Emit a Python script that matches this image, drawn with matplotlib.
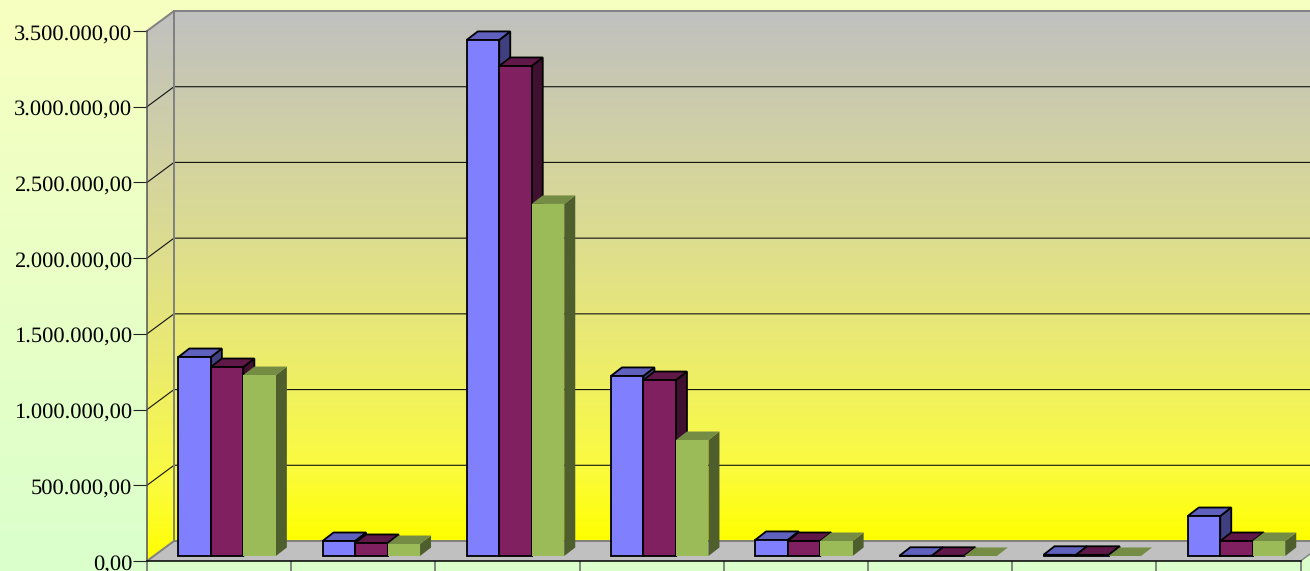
import numpy as np
import matplotlib
matplotlib.use('Agg')
import matplotlib.pyplot as plt
from matplotlib.colors import LinearSegmentedColormap
from matplotlib.patches import Polygon
from matplotlib.transforms import ScaledTranslation

series_a = [1314000, 99000, 3408000, 1189000, 106000, 1500, 8000, 264000]
series_b = [1248000, 86000, 3236000, 1162000, 99000, 1500, 8000, 99000]
series_c = [1195000, 79000, 2325000, 766000, 99000, 0, 0, 99000]
tick_vals = [0, 500000, 1000000, 1500000, 2000000, 2500000, 3000000, 3500000]
tick_labels = ['0,00', '500.000,00', '1.000.000,00', '1.500.000,00', '2.000.000,00',
               '2.500.000,00', '3.000.000,00', '3.500.000,00']
n_cats = 8

W, H = 1310, 571
cat_px = 144.2
val_per_px = 3500000 / 530
x0_px, y0_px = 147, 561

# depth of the fake 3d box, in data units
DX = 27 / cat_px
DY = 20 * val_per_px
YTOP = 3500000

plt.rcParams['font.family'] = ['Liberation Serif', 'DejaVu Serif']
plt.rcParams['text.hinting'] = 'no_hinting'
fig = plt.figure(figsize=(W / 100, H / 100), dpi=100)
ax = fig.add_axes([0, 0, 1, 1])
ax.set_xlim(-x0_px / cat_px, (W - x0_px) / cat_px)
ax.set_ylim(-(H - y0_px) * val_per_px, y0_px * val_per_px)
ax.patch.set_visible(False)
xmin, xmax = ax.get_xlim()
ymin, ymax = ax.get_ylim()

# page background
page_cm = LinearSegmentedColormap.from_list('page', ['#F8FFC0', '#DAFFCC'])
ax.imshow(np.linspace(0, 1, 256).reshape(-1, 1), cmap=page_cm, aspect='auto',
          extent=(xmin, xmax, ymin, ymax), origin='upper', zorder=0)

# walls, the gradient is not linear in the reference
wall_cm = LinearSegmentedColormap.from_list('wall', [(0, '#C0C0C0'), (0.43, '#DDDD90'), (0.64, '#EBEB70'),
                                                     (0.86, '#FBFB40'), (1, '#FFFF00')])
right_x = n_cats + DX
back = ax.imshow(np.linspace(0, 1, 256).reshape(-1, 1), cmap=wall_cm, aspect='auto',
                 extent=(DX, right_x, DY, YTOP + DY), origin='upper', zorder=1)
side = ax.imshow(np.linspace(0, 1, 256).reshape(-1, 1), cmap=wall_cm, aspect='auto',
                 extent=(0, DX, 0, YTOP + DY), origin='upper', zorder=1)
side_clip = Polygon([(0, 0), (DX, DY), (DX, YTOP + DY), (0, YTOP)], transform=ax.transData,
                    fc='none', ec='none')
ax.add_patch(side_clip)
side.set_clip_path(side_clip)
ax.set_xlim(xmin, xmax)
ax.set_ylim(ymin, ymax)

# floor
ax.add_patch(Polygon([(0, 0), (DX, DY), (right_x, DY), (n_cats, 0)], fc='#C0C0C0', ec='none', zorder=2))
ax.plot([n_cats, right_x], [0, DY], color='#808080', lw=1, zorder=2.5)

# grid
for v in tick_vals[1:-1]:
    ax.plot([0, DX, right_x], [v, v + DY, v + DY], color='#111111', lw=0.8, zorder=3)
ax.plot([0, DX, right_x], [YTOP, YTOP + DY, YTOP + DY], color='#808080', lw=1.4, zorder=3)
ax.plot([DX, DX], [DY, YTOP + DY], color='#808080', lw=1.4, zorder=3)
ax.plot([0, DX, right_x], [0, DY, DY], color='#808080', lw=1.4, zorder=3)

# bars
bar_w = 32.5 / cat_px
start = 24.6 / cat_px
lift_x = 6.75 / cat_px
lift_y = 5 * val_per_px
bar_dx = 11 / cat_px
bar_dy = 8.5 * val_per_px
styles = [
    (series_a, '#8080FF', '#6060BF', '#404080', 'black'),
    (series_b, '#802060', '#601848', '#401030', 'black'),
    (series_c, '#9BBB59', '#748C43', '#4E5E2D', 'none'),
]
for i in range(n_cats):
    for j, (vals, front, top, dark, edge) in enumerate(styles):
        v = vals[i]
        left = i + lift_x + start + j * bar_w
        z = 4 + j + i * 3
        ax.add_patch(Polygon([(left + bar_w, lift_y), (left + bar_w + bar_dx, lift_y + bar_dy),
                              (left + bar_w + bar_dx, lift_y + bar_dy + v), (left + bar_w, lift_y + v)],
                             fc=dark, ec=edge, lw=1.3, zorder=z, joinstyle='miter'))
        ax.add_patch(Polygon([(left, lift_y + v), (left + bar_dx, lift_y + bar_dy + v),
                              (left + bar_w + bar_dx, lift_y + bar_dy + v), (left + bar_w, lift_y + v)],
                             fc=top, ec=edge, lw=1.3, zorder=z, joinstyle='miter'))
        ax.bar(left, v, width=bar_w, bottom=lift_y, align='edge', color=front,
               edgecolor=edge, linewidth=1.3, zorder=z + 0.5)

# axes lines and ticks
for name in ['top', 'right']:
    ax.spines[name].set_visible(False)
ax.spines['left'].set_position(('data', 0))
ax.spines['bottom'].set_position(('data', 0))
ax.spines['left'].set_bounds(0, YTOP)
ax.spines['bottom'].set_bounds(0, n_cats)
ax.spines['left'].set_color('#555555')
ax.spines['left'].set_linewidth(1.1)
ax.spines['bottom'].set_color('black')
ax.spines['bottom'].set_linewidth(1.1)
ax.spines['left'].set_zorder(50)
ax.spines['bottom'].set_zorder(50)
ax.set_yticks(tick_vals)
ax.set_yticklabels(tick_labels, fontsize=16.2, color='black')
ax.set_xticks(range(n_cats + 1))
ax.set_xticklabels([])
ax.tick_params(axis='y', length=10, width=0.8, color='#222222', pad=0.5)
ax.tick_params(axis='x', length=8, width=1.1, color='#666666')

# labels sit a little under their ticks
nudge = ScaledTranslation(0, -1.5 / 100, fig.dpi_scale_trans)
for lab in ax.get_yticklabels():
    lab.set_transform(lab.get_transform() + nudge)

fig.savefig('out.png', dpi=100)
